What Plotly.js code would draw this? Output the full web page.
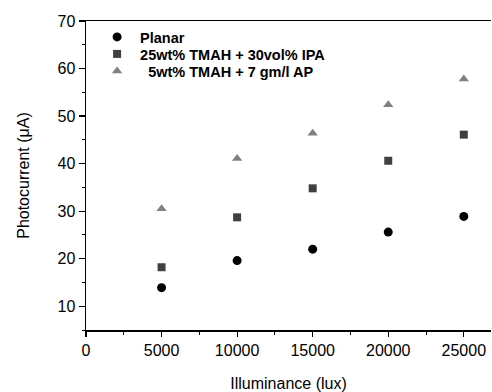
<!DOCTYPE html>
<html>
<head>
<meta charset="utf-8">
<script src="https://cdn.plot.ly/plotly-3.0.1.min.js"></script>
<style>html,body{margin:0;padding:0;background:#fff;}#chart{width:492px;height:392px;}</style>
</head>
<body>
<div id="chart"></div>
<script>
const illuminance = [5000, 10000, 15000, 20000, 25000];
const planar = [13.9, 19.6, 22.0, 25.6, 28.9];
const tmahIpa = [18.2, 28.7, 34.8, 40.6, 46.1];
const tmahAp = [30.5, 41.1, 46.4, 52.4, 57.8];
const seriesNames = ["Planar", "25wt% TMAH + 30vol% IPA", "\u00a0\u00a05wt% TMAH + 7 gm/l AP"];

const traces = [
  {x: illuminance, y: planar, name: seriesNames[0], type: 'scatter', mode: 'markers', legend: 'legend',
   marker: {symbol: 'circle', size: 9, color: '#000000'}},
  {x: illuminance, y: tmahIpa, name: seriesNames[1], type: 'scatter', mode: 'markers', legend: 'legend2',
   marker: {symbol: 'square', size: 8, color: '#404040'}},
  {x: illuminance, y: tmahAp, name: seriesNames[2], type: 'scatter', mode: 'markers', legend: 'legend3',
   marker: {symbol: 'triangle-up', size: 9, color: '#808080'}}
];

const plotH = 392 - 21 - 62;
function leg(k) {
  return {x: 0.02, y: 1.0 - k * 17 / plotH, xanchor: 'left', yanchor: 'top', bgcolor: 'rgba(0,0,0,0)',
          itemwidth: 36, font: {size: 14.5, weight: 'bold', color: '#000'}};
}

const layout = {
  width: 492, height: 392,
  margin: {l: 86, r: 1, t: 21, b: 62},
  paper_bgcolor: '#fff', plot_bgcolor: '#fff',
  font: {family: 'Arial, "Liberation Sans", sans-serif', size: 16, color: '#000'},
  showlegend: true,
  legend: leg(0), legend2: leg(1), legend3: leg(2),
  xaxis: {
    range: [0, 26800], tick0: 0, dtick: 5000, showgrid: false, zeroline: false,
    tickformat: 'd',
    showline: true, linecolor: '#000', linewidth: 1.5, mirror: true,
    ticks: 'outside', ticklen: 5, tickwidth: 1.2, tickcolor: '#000',
    minor: {ticks: 'outside', ticklen: 3, dtick: 2500, tickcolor: '#000', tickwidth: 1},
    title: {text: 'Illuminance (lux)', font: {size: 16}, standoff: 20}
  },
  yaxis: {
    range: [5, 70], tick0: 0, dtick: 10, showgrid: false, zeroline: false,
    showline: true, linecolor: '#000', linewidth: 1.5,
    ticks: 'outside', ticklen: 6, tickwidth: 1.2, tickcolor: '#000',
    minor: {ticks: 'outside', ticklen: 3, dtick: 5, tickcolor: '#000', tickwidth: 1},
    title: {text: 'Photocurrent (\u03bcA)', font: {size: 16}, standoff: 24}
  }
};

Plotly.newPlot('chart', traces, layout, {displayModeBar: false, staticPlot: true});
</script>
</body>
</html>
